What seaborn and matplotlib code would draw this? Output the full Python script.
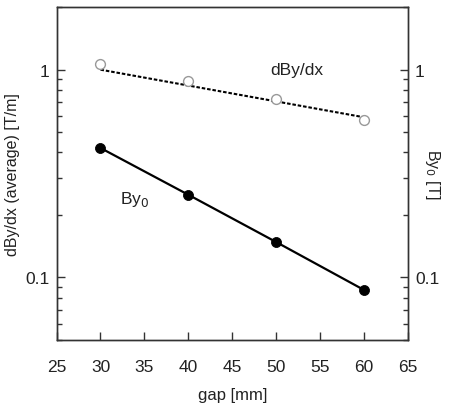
import numpy as np
import pandas as pd
import seaborn as sns
import matplotlib.pyplot as plt
from matplotlib.ticker import LogLocator, FixedLocator, NullFormatter


# values
gap_mm = [30, 40, 50, 60]
dbydx_avg = [1.06, 0.88, 0.725, 0.573]   # open circles [T/m]
by0 = [0.42, 0.25, 0.148, 0.087]         # filled circles [T]
# fitted dashed line drawn from end to end
fit_gap = [30, 60]
fit_dbydx = [1.0, 0.59]

xticks = [25, 30, 35, 40, 45, 50, 55, 60, 65]


def style_axis(ax, lw, side):
    ax.set_yscale("log")
    ax.set_ylim(0.05, 2.0)
    ax.yaxis.set_major_locator(FixedLocator([0.1, 1]))
    ax.yaxis.set_major_formatter(plt.FuncFormatter(lambda v, p: f"{v:g}"))
    ax.yaxis.set_minor_locator(LogLocator(base=10, subs=np.arange(2, 10)))
    ax.yaxis.set_minor_formatter(NullFormatter())
    on = dict(left=(side == "left"), right=(side == "right"),
              labelleft=(side == "left"), labelright=(side == "right"))
    ax.tick_params(axis="y", which="major", direction="in", length=6, width=lw,
                   labelsize=12.5, color="#333333", labelcolor="#222222",
                   pad=5, **on)
    ax.tick_params(axis="y", which="minor", direction="in", length=3.5, width=lw,
                   color="#333333", **on)


sns.set_style("ticks")
plt.rcParams["font.family"] = ["Liberation Sans", "DejaVu Sans"]
plt.rcParams["xtick.direction"] = "in"
plt.rcParams["ytick.direction"] = "in"

df_pts = pd.DataFrame({"gap": gap_mm, "dbydx": dbydx_avg, "by0": by0})
df_fit = pd.DataFrame({"gap": fit_gap, "dbydx": fit_dbydx})

fig = plt.figure(figsize=(4.56, 4.06), dpi=100)
ax = fig.add_axes([0.124, 0.160, 0.771, 0.820])
lw = 1.0

sns.lineplot(data=df_fit, x="gap", y="dbydx", ax=ax, color="black",
             linestyle=(0, (1.7, 0.9)), linewidth=1.5)
sns.scatterplot(data=df_pts, x="gap", y="dbydx", ax=ax, marker="o",
                facecolor="white", edgecolor="#999999", linewidth=1.0, s=50,
                zorder=3)
sns.lineplot(data=df_pts, x="gap", y="by0", ax=ax, color="black", linewidth=1.6)
sns.scatterplot(data=df_pts, x="gap", y="by0", ax=ax, marker="o",
                color="black", edgecolor="black", s=52, zorder=3)

ax.set_xlim(25, 65)
ax.set_xticks(xticks)
ax.tick_params(axis="x", direction="in", length=6, width=lw, labelsize=12.5,
               color="#333333", labelcolor="#222222", pad=14, bottom=True)
style_axis(ax, lw, "left")

ax.set_xlabel("gap [mm]", fontsize=12, color="#222222", labelpad=9)
ax.set_ylabel("dBy/dx (average) [T/m]", fontsize=11.5, color="#222222", labelpad=4)

ax.text(49.3, 1.0, "dBy/dx", fontsize=12.5, color="#222222", va="center", ha="left")
ax.text(32.2, 0.24, r"By$_0$", fontsize=12.5, color="#222222", va="center", ha="left")

for sp in ax.spines.values():
    sp.set_visible(True)
    sp.set_linewidth(lw)
    sp.set_color("#333333")

ax2 = ax.twinx()
style_axis(ax2, lw, "right")
ax2.set_ylabel(r"By$_0$ [T]", fontsize=11.5, color="#222222", rotation=-90,
               labelpad=2)
for sp in ax2.spines.values():
    sp.set_visible(True)
    sp.set_linewidth(lw)
    sp.set_color("#333333")

fig.savefig("out.png", dpi=100)
